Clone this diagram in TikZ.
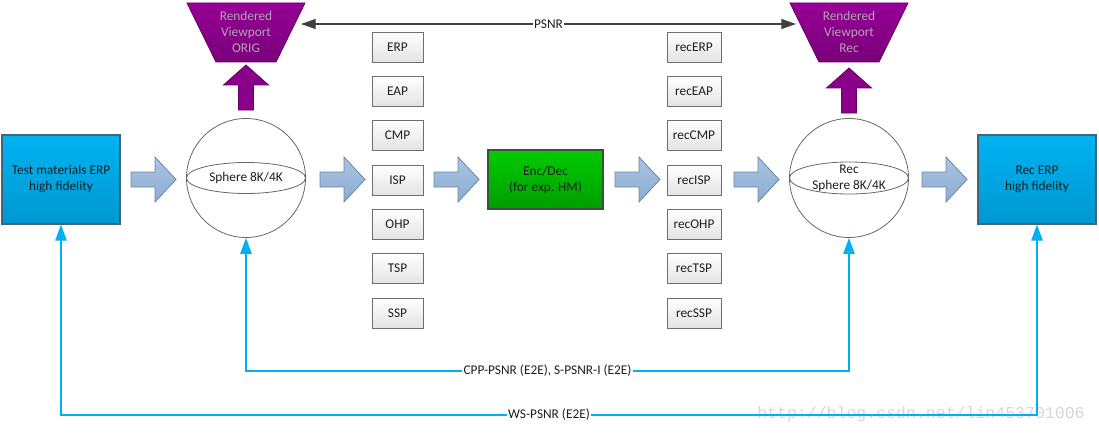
\documentclass[tikz,border=0pt]{standalone}
\usepackage{fontspec}
\setmainfont{Carlito}
\newfontfamily\wmfont{Liberation Mono}
\usetikzlibrary{arrows.meta}
\definecolor{cytop}{RGB}{0,178,242}
\definecolor{cybot}{RGB}{0,152,208}
\definecolor{cyborder}{RGB}{70,100,115}
\definecolor{cyline}{RGB}{0,176,240}
\definecolor{grtop}{RGB}{0,204,0}
\definecolor{grbot}{RGB}{0,158,0}
\definecolor{grborder}{RGB}{60,80,60}
\definecolor{putop}{RGB}{150,0,150}
\definecolor{pubot}{RGB}{122,0,122}
\definecolor{puborder}{RGB}{100,0,100}
\definecolor{putext}{RGB}{178,165,178}
\definecolor{batop}{RGB}{170,196,226}
\definecolor{babot}{RGB}{140,172,210}
\definecolor{baborder}{RGB}{105,135,170}
\definecolor{sbborder}{RGB}{110,110,110}
\definecolor{txt}{RGB}{30,30,30}
\definecolor{psline}{RGB}{64,64,64}
\definecolor{wmgray}{RGB}{214,214,214}
\tikzset{
  bigbox/.style={draw=cyborder, line width=0.9pt, top color=cytop, bottom color=cybot,
    minimum width=88.5pt, minimum height=66.75pt, align=center, text=txt, inner sep=0pt},
  encbox/.style={draw=grborder, line width=0.9pt, top color=grtop, bottom color=grbot,
    minimum width=86.25pt, minimum height=44.25pt, align=center, text=txt, inner sep=0pt},
  projbox/.style={draw=sbborder, line width=0.6pt, top color=white, bottom color=black!11,
    minimum width=38.25pt, minimum height=22.5pt, text=txt, inner sep=0pt},
  recbox/.style={projbox, minimum width=40.5pt},
  sphere/.style={circle, draw=black!60, line width=0.6pt, minimum size=89.25pt, inner sep=0pt,
    align=center, text=txt},
  sphline/.style={draw=black!60, line width=0.6pt},
  vport/.style={draw=puborder, line width=0.6pt, top color=putop, bottom color=pubot},
  vptext/.style={align=center, text=putext, inner sep=0pt},
  blockarrow/.style={draw=baborder, line width=0.6pt, top color=batop, bottom color=babot},
  uparrow/.style={draw=puborder, line width=0.6pt, fill=putop!92!black},
  cyconn/.style={draw=cyline, line width=1.2pt, {Triangle[length=12pt,width=8.5pt]}-{Triangle[length=12pt,width=8.5pt]}},
  psconn/.style={draw=psline, line width=0.8pt, {Triangle[length=11pt,width=7.5pt]}-{Triangle[length=11pt,width=7.5pt]}},
  lbl/.style={fill=white, inner sep=1pt, text=txt},
  barrow/.pic={\path[blockarrow] (0,-7.5) -- (24,-7.5) -- (24,-22.5) -- (45,0) -- (24,22.5) -- (24,7.5) -- (0,7.5) -- cycle;},
  parrow/.pic={\path[uparrow] (-7.5,0) -- (-7.5,-25) -- (-22.5,-25) -- (0,-45) -- (22.5,-25) -- (7.5,-25) -- (7.5,0) -- cycle;},
}
\begin{document}
\begin{tikzpicture}[x=0.75pt, y=-0.75pt, font=\fontsize{10}{12}\selectfont]
\useasboundingbox (0,0) rectangle (1099,435);

% main row
\node[bigbox] (test) at (61,179.5) {Test materials ERP\\high fidelity};
\node[sphere] (sph1) at (246,178) {Sphere 8K/4K};
\draw[sphline] (sph1.center) ellipse [x radius=59.5, y radius=15.5];
\node[encbox] (enc) at (545.5,179.5) {Enc/Dec\\(for exp. HM)};
\node[sphere] (sph2) at (849,178) {Rec\\Sphere 8K/4K};
\draw[sphline] (sph2.center) ellipse [x radius=59.5, y radius=16];
\node[bigbox] (recerp) at (1037,179.5) {Rec ERP\\high fidelity};

% projection boxes
\foreach \n [count=\i from 0] in {ERP,EAP,CMP,ISP,OHP,TSP,SSP}{
  \node[projbox] (p\n) at (397.5,{47+44.33*\i}) {\n};
  \node[recbox] (r\n) at (694,{47+44.33*\i}) {rec\n};
}

% block arrows
\foreach \ax in {131,320,434,615,734,922}{
  \pic at (\ax,179.5) {barrow};
}

% viewports
\path[vport] (187,3) -- (305,3) -- (276,62) -- (216,62) -- cycle;
\node[vptext] (vpL) at (246,32) {Rendered\\Viewport\\ORIG};
\path[vport] (790,3) -- (908,3) -- (879,62) -- (819,62) -- cycle;
\node[vptext] (vpR) at (849,32) {Rendered\\Viewport\\Rec};
\pic at (246,110) {parrow};
\pic at (849,113) {parrow};

% PSNR connector
\coordinate (psL) at (301,24);
\coordinate (psR) at (796,24);
\draw[psconn] (psL) -- node[lbl, inner sep=0.5pt] (psnr) {PSNR} (psR);

% watermark (under the line)
\node[anchor=west, inner sep=0pt, text=wmgray, font=\wmfont\fontsize{12.4}{14}\selectfont] (wm) at (757,414) {http://blog.csdn.net/lin453701006};

% bottom connectors
\coordinate (cppy) at (0,371);
\coordinate (wsy) at (0,415);
\draw[cyconn] (sph1.south) -- (sph1.south |- cppy) -- node[lbl] (cpp) {CPP-PSNR (E2E), S-PSNR-I (E2E)} (sph2.south |- cppy) -- (sph2.south);
\draw[cyconn] (test.south) -- (test.south |- wsy) -- node[lbl] (ws) {WS-PSNR (E2E)} (recerp.south |- wsy) -- (recerp.south);
\end{tikzpicture}
\end{document}
